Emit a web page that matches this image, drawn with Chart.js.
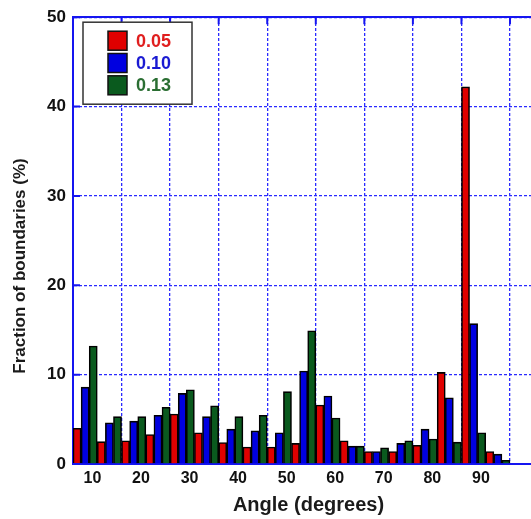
<!DOCTYPE html>
<html>
<head>
<meta charset="utf-8">
<script src="https://cdn.jsdelivr.net/npm/chart.js@4"></script>
<style>
html, body { margin: 0; padding: 0; overflow: hidden; background: #fff; }
#wrap { width: 544px; height: 519px; position: relative; }
</style>
</head>
<body>
<div id="wrap"><canvas id="c"></canvas></div>
<script>
// ---- data ----
const binCenters = [2.5, 7.5, 12.5, 17.5, 22.5, 27.5, 32.5, 37.5, 42.5, 47.5, 52.5, 57.5, 62.5, 67.5, 72.5, 77.5, 82.5, 87.5];
const series005 = [4.0, 2.5, 2.6, 3.3, 5.6, 3.5, 2.4, 1.9, 1.9, 2.3, 6.6, 2.6, 1.4, 1.4, 2.1, 10.25, 42.2, 1.4];
const series010 = [8.6, 4.6, 4.8, 5.45, 7.9, 5.3, 3.9, 3.7, 3.5, 10.4, 7.6, 2.0, 1.4, 2.3, 3.9, 7.4, 15.7, 1.1];
const series013 = [13.2, 5.3, 5.3, 6.35, 8.3, 6.5, 5.3, 5.45, 8.1, 14.9, 5.15, 2.0, 1.8, 2.6, 2.8, 2.45, 3.5, 0.4];
const seriesNames = ['0.05', '0.10', '0.13'];
const gridTicks = [0, 10, 20, 30, 40, 50, 60, 70, 80, 90];
const xTickLabels = [10, 20, 30, 40, 50, 60, 70, 80, 90];
const yTicks = [0, 10, 20, 30, 40, 50];
const xTitle = 'Angle (degrees)';
const yTitle = 'Fraction of boundaries (%)';

const FONT = "'Liberation Sans', Arial, Helvetica, sans-serif";
const fillColors = ['#e00000', '#0000e0', '#0a5a1e'];
const textColors = ['#e01e1e', '#1a1ad2', '#2a6e32'];
const gridBlue = '#2a2aff';
const axisBlue = '#1515f0';

function toPoints(vals) { return binCenters.map((x, i) => ({ x: x, y: vals[i] })); }

const datasets = [series005, series010, series013].map((vals, i) => ({
  label: seriesNames[i],
  data: toPoints(vals),
  backgroundColor: fillColors[i],
  borderColor: '#000',
  borderWidth: 1.6,
  barPercentage: 1,
  categoryPercentage: 1,
  xAxisID: 'x',
  yAxisID: 'y'
}));

const innerTicks = {
  id: 'innerTicks',
  afterDatasetsDraw(chart) {
    const { ctx, chartArea: a, scales } = chart;
    ctx.save();
    ctx.strokeStyle = axisBlue;
    ctx.lineWidth = 2;
    ctx.beginPath();
    gridTicks.forEach(v => {
      const px = scales.x.getPixelForValue(v);
      ctx.moveTo(px, a.top); ctx.lineTo(px, a.top + 7);
    });
    yTicks.forEach(v => {
      const py = scales.y.getPixelForValue(v);
      ctx.moveTo(a.left, py); ctx.lineTo(a.left + 7, py);
    });
    ctx.stroke();
    ctx.restore();
  }
};

const boxLegend = {
  id: 'boxLegend',
  afterDraw(chart) {
    const ctx = chart.ctx;
    const a = chart.chartArea;
    const bx = a.left + 10, by = a.top + 5, bw = 109, bh = 82;
    ctx.save();
    ctx.fillStyle = '#fff';
    ctx.fillRect(bx, by, bw, bh);
    ctx.strokeStyle = '#333';
    ctx.lineWidth = 1.5;
    ctx.strokeRect(bx, by, bw, bh);
    chart.data.datasets.forEach((ds, i) => {
      const sy = by + 9 + i * 22.3;
      ctx.fillStyle = ds.backgroundColor;
      ctx.fillRect(bx + 25, sy, 19, 19);
      ctx.strokeStyle = '#111';
      ctx.lineWidth = 1.5;
      ctx.strokeRect(bx + 25, sy, 19, 19);
      ctx.fillStyle = textColors[i];
      ctx.font = 'bold 18px ' + FONT;
      ctx.textAlign = 'left';
      ctx.textBaseline = 'middle';
      ctx.fillText(ds.label, bx + 53, sy + 10.5);
    });
    ctx.restore();
  }
};

const yTitlePlugin = {
  id: 'yTitlePlugin',
  afterDraw(chart) {
    const ctx = chart.ctx;
    ctx.save();
    ctx.translate(20, 266);
    ctx.rotate(-Math.PI / 2);
    ctx.fillStyle = '#1a1a1a';
    ctx.font = 'bold 17px ' + FONT;
    ctx.textAlign = 'center';
    ctx.textBaseline = 'middle';
    ctx.fillText(yTitle, 0, 0);
    ctx.restore();
  }
};

new Chart(document.getElementById('c'), {
  type: 'bar',
  data: { datasets: datasets },
  plugins: [innerTicks, boxLegend, yTitlePlugin],
  options: {
    responsive: true,
    maintainAspectRatio: false,
    animation: false,
    devicePixelRatio: 1,
    layout: { padding: 0 },
    plugins: { legend: { display: false }, tooltip: { enabled: false } },
    scales: {
      x: {
        type: 'linear',
        position: 'top',
        offset: false,
        min: 0,
        max: 97,
        afterBuildTicks: s => { s.ticks = gridTicks.map(v => ({ value: v })); },
        afterFit: s => { s.height = 14; },
        ticks: { display: false },
        grid: { offset: false, color: gridBlue, lineWidth: 1.3, drawTicks: false },
        border: { display: true, color: axisBlue, width: 2, dash: [3, 2] }
      },
      x2: {
        type: 'linear',
        position: 'bottom',
        offset: false,
        min: 6,
        max: 103,
        afterBuildTicks: s => { s.ticks = xTickLabels.map(v => ({ value: v })); },
        afterFit: s => { s.height = 55; },
        ticks: { color: '#111', padding: 5, maxRotation: 0, font: { family: FONT, size: 16, weight: 'bold' } },
        grid: { offset: false, display: false, drawTicks: false },
        border: { display: true, color: axisBlue, width: 2 },
        title: { display: true, text: xTitle, color: '#1a1a1a', padding: { top: 0, bottom: 2 }, font: { family: FONT, size: 20, weight: 'bold' } }
      },
      y: {
        type: 'linear',
        position: 'left',
        min: 0,
        max: 50,
        afterBuildTicks: s => { s.ticks = yTicks.map(v => ({ value: v })); },
        afterFit: s => { s.width = 73; },
        ticks: { color: '#111', padding: 7, font: { family: FONT, size: 17, weight: 'bold' } },
        grid: { color: gridBlue, lineWidth: 1.3, drawTicks: false },
        border: { display: true, color: axisBlue, width: 2, dash: [3, 2] }
      }
    }
  }
});
</script>
</body>
</html>
